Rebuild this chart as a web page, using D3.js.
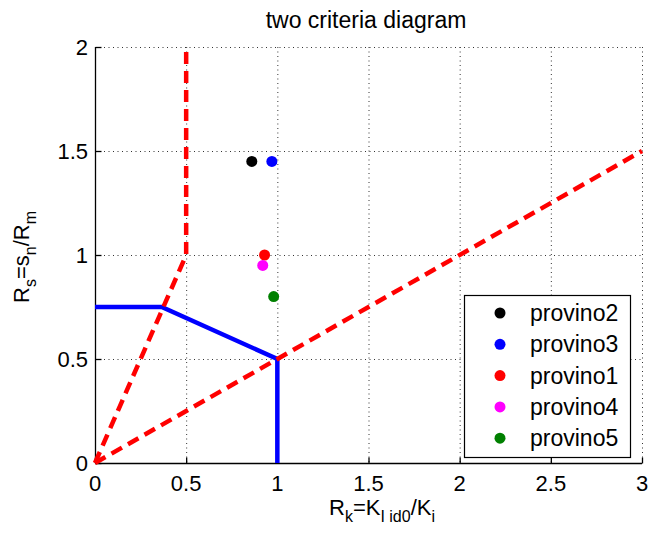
<!DOCTYPE html>
<html>
<head>
<meta charset="utf-8">
<script src="https://cdn.jsdelivr.net/npm/d3@7"></script>
<style>
  html, body { margin: 0; padding: 0; background: #fff; }
  svg { display: block; font-family: "Liberation Sans", Arial, Helvetica, sans-serif; }
</style>
</head>
<body>
<svg id="chart" width="651" height="533"></svg>
<script>
// Axis ticks
const xTicks = [0, 0.5, 1, 1.5, 2, 2.5, 3];
const yTicks = [0, 0.5, 1, 1.5, 2];

// Limit lines (red dashed)
const limitUpperX = [0, 0.5, 0.5];
const limitUpperY = [0, 1, 2];
const limitLowerX = [0, 3];
const limitLowerY = [0, 1.5];

// Acceptance boundary (blue solid)
const boundaryX = [0, 0.366, 1, 1];
const boundaryY = [0.75, 0.75, 0.5, 0];

// Specimens
const specimenNames = ["provino2", "provino3", "provino1", "provino4", "provino5"];
const specimenRk = [0.86, 0.97, 0.93, 0.92, 0.98];
const specimenRs = [1.45, 1.45, 1.00, 0.95, 0.80];
const specimenColors = ["#000000", "#0000ff", "#ff0000", "#ff00ff", "#008000"];

const svg = d3.select("#chart");
const m = { left: 95, right: 642, top: 47, bottom: 463 };

const x = d3.scaleLinear().domain([0, 3]).range([m.left, m.right]);
const y = d3.scaleLinear().domain([0, 2]).range([m.bottom, m.top]);

// Dotted grid
const grid = svg.append("g").attr("stroke", "#333").attr("stroke-width", 1)
  .attr("stroke-dasharray", "1,3.5");
grid.selectAll("line.gx").data(xTicks.filter(d => d > 0)).join("line")
  .attr("x1", d => x(d) + 0.5).attr("x2", d => x(d) + 0.5)
  .attr("y1", m.top).attr("y2", m.bottom);
grid.selectAll("line.gy").data(yTicks.filter(d => d > 0)).join("line")
  .attr("x1", m.left).attr("x2", m.right)
  .attr("y1", d => y(d) + 0.5).attr("y2", d => y(d) + 0.5);

// Axes with inward ticks
const xAxis = svg.append("g").attr("transform", `translate(0,${m.bottom + 0.5})`)
  .call(d3.axisTop(x).tickValues(xTicks).tickSize(6).tickFormat(() => ""));
const yAxis = svg.append("g").attr("transform", `translate(${m.left + 0.5},0)`)
  .call(d3.axisRight(y).tickValues(yTicks).tickSize(6).tickFormat(() => ""));
[xAxis, yAxis].forEach(a => {
  a.selectAll("path, line").attr("stroke", "#000").attr("stroke-width", 1.3);
  a.select(".domain").attr("d", a === xAxis
    ? `M${m.left},0H${m.right}` : `M0,${m.top}V${m.bottom}`);
});

// Tick labels
svg.append("g").selectAll("text").data(xTicks).join("text")
  .attr("x", d => x(d)).attr("y", 491)
  .attr("text-anchor", "middle").attr("font-size", 22).attr("fill", "#000")
  .text(d => d3.format("~g")(d));
svg.append("g").selectAll("text").data(yTicks).join("text")
  .attr("x", 88).attr("y", d => y(d) + 8)
  .attr("text-anchor", "end").attr("font-size", 22).attr("fill", "#000")
  .text(d => d3.format("~g")(d));

// Lines
const line = d3.line().x(d => x(d[0])).y(d => y(d[1]));
const zip = (a, b) => a.map((v, i) => [v, b[i]]);

svg.append("path").datum(zip(boundaryX, boundaryY)).attr("d", line)
  .attr("fill", "none").attr("stroke", "#0000ff").attr("stroke-width", 4.5)
  .attr("stroke-linejoin", "miter");

[zip(limitUpperX, limitUpperY), zip(limitLowerX, limitLowerY)].forEach(pts => {
  svg.append("path").datum(pts).attr("d", line)
    .attr("fill", "none").attr("stroke", "#ff0000").attr("stroke-width", 4.5)
    .attr("stroke-dasharray", "12,7").attr("stroke-linejoin", "miter");
});

// Specimen points
svg.append("g").selectAll("circle").data(specimenNames).join("circle")
  .attr("cx", (d, i) => x(specimenRk[i])).attr("cy", (d, i) => y(specimenRs[i]))
  .attr("r", 5.5).attr("fill", (d, i) => specimenColors[i]);

// Legend
const lg = svg.append("g");
lg.append("rect").attr("x", 464.5).attr("y", 295.5).attr("width", 166).attr("height", 162)
  .attr("fill", "#fff").attr("stroke", "#000").attr("stroke-width", 1.2);
const entries = lg.selectAll("g.e").data(specimenNames).join("g")
  .attr("transform", (d, i) => `translate(0,${313 + i * 31.3})`);
entries.append("circle").attr("cx", 500).attr("cy", 0).attr("r", 5.5)
  .attr("fill", (d, i) => specimenColors[i]);
entries.append("text").attr("x", 530).attr("y", 8).attr("font-size", 23)
  .attr("fill", "#000").text(d => d);

// Title
svg.append("text").attr("x", 366).attr("y", 28).attr("text-anchor", "middle")
  .attr("font-size", 23).attr("fill", "#000").text("two criteria diagram");

// X label: R_k = K_{I id0} / K_i
const xl = svg.append("text").attr("x", 382).attr("y", 515).attr("text-anchor", "middle")
  .attr("font-size", 22).attr("fill", "#000");
xl.append("tspan").text("R");
xl.append("tspan").attr("dy", 7).attr("font-size", 16).text("k");
xl.append("tspan").attr("dy", -7).text("=K");
xl.append("tspan").attr("dy", 7).attr("font-size", 16).text("I id0");
xl.append("tspan").attr("dy", -7).text("/K");
xl.append("tspan").attr("dy", 7).attr("font-size", 16).text("i");

// Y label: R_s = s_n / R_m
const yl = svg.append("text").attr("transform", "translate(29,257) rotate(-90)")
  .attr("text-anchor", "middle").attr("font-size", 22).attr("fill", "#000");
yl.append("tspan").text("R");
yl.append("tspan").attr("dy", 7).attr("font-size", 16).text("s");
yl.append("tspan").attr("dy", -7).text("=s");
yl.append("tspan").attr("dy", 7).attr("font-size", 16).text("n");
yl.append("tspan").attr("dy", -7).text("/R");
yl.append("tspan").attr("dy", 7).attr("font-size", 16).text("m");
</script>
</body>
</html>
